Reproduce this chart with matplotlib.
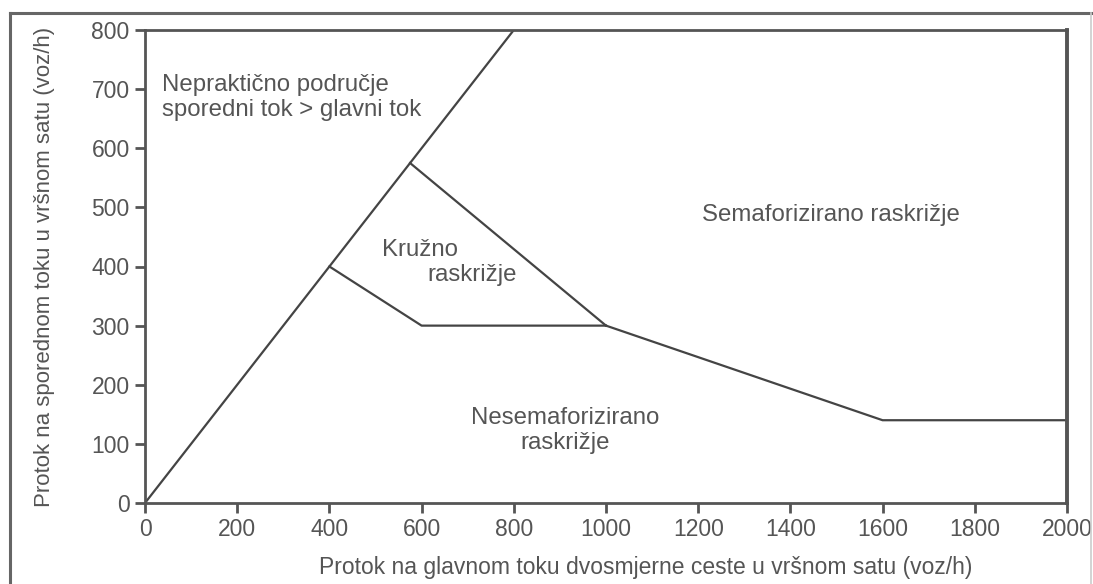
import matplotlib.pyplot as plt
from matplotlib.lines import Line2D

plt.rcParams['font.family'] = ['Liberation Sans', 'DejaVu Sans']

# granice područja (voz/h)
diag_x = [0, 800]
diag_y = [0, 800]
kruzno_donja_x = [400, 600, 1000]
kruzno_donja_y = [400, 300, 300]
kruzno_gornja_x = [575, 1000]
kruzno_gornja_y = [575, 300]
semafor_x = [1000, 1600, 2000]
semafor_y = [300, 140, 140]

x_ticks = [0, 200, 400, 600, 800, 1000, 1200, 1400, 1600, 1800, 2000]
y_ticks = [0, 100, 200, 300, 400, 500, 600, 700, 800]

txt_col = '#555555'
line_col = '#444444'
fs = 16.5
fs_txt = 17.3

fig = plt.figure(figsize=(10.93, 5.84), dpi=100)
ax = fig.add_axes([145 / 1093, 1 - 503 / 584, (1067 - 145) / 1093, (503 - 30) / 584])

for xs, ys in [(diag_x, diag_y), (kruzno_donja_x, kruzno_donja_y),
               (kruzno_gornja_x, kruzno_gornja_y), (semafor_x, semafor_y)]:
    ax.plot(xs, ys, color=line_col, lw=1.6)

ax.set_xlim(0, 2000)
ax.set_ylim(0, 800)
ax.set_xticks(x_ticks)
ax.set_yticks(y_ticks)
ax.tick_params(direction='out', length=7, width=2, color='#555555',
               labelcolor=txt_col, labelsize=fs, pad=4)
for s in ax.spines.values():
    s.set_color('#555555')
    s.set_linewidth(2)
ax.spines['right'].set_linewidth(2.8)

ax.set_xlabel('Protok na glavnom toku dvosmjerne ceste u vršnom satu (voz/h)',
              fontsize=fs, color=txt_col)
ax.xaxis.set_label_coords(0.543, -0.112)
ax.set_ylabel('Protok na sporednom toku u vršnom satu (voz/h)',
              fontsize=16, color=txt_col)
ax.yaxis.set_label_coords(-0.098, 0.50)

# oznake područja
ax.text(37, 686, 'Nepraktično područje\nsporedni tok > glavni tok',
        fontsize=fs_txt, color=txt_col, ha='left', va='center')
ax.text(1488, 487, 'Semaforizirano raskrižje', fontsize=fs_txt, color=txt_col,
        ha='center', va='center')
ax.text(514, 428, 'Kružno', fontsize=fs_txt, color=txt_col, ha='left', va='center')
ax.text(612, 386, 'raskrižje', fontsize=fs_txt, color=txt_col, ha='left', va='center')
ax.text(911, 123, 'Nesemaforizirano\nraskrižje', fontsize=fs_txt, color=txt_col,
        ha='center', va='center', multialignment='center')

# vanjski okvir
fx0, fy1 = 10 / 1093, 1 - 13 / 584
fx1 = 1091 / 1093
fig.add_artist(Line2D([fx0, fx0], [0, fy1], color='#666666', lw=2.2, transform=fig.transFigure))
fig.add_artist(Line2D([fx0, 1], [fy1, fy1], color='#666666', lw=2.2, transform=fig.transFigure))
fig.add_artist(Line2D([fx1, fx1], [0, fy1], color='#cccccc', lw=1.2, transform=fig.transFigure))

fig.savefig('out.png', dpi=100)
